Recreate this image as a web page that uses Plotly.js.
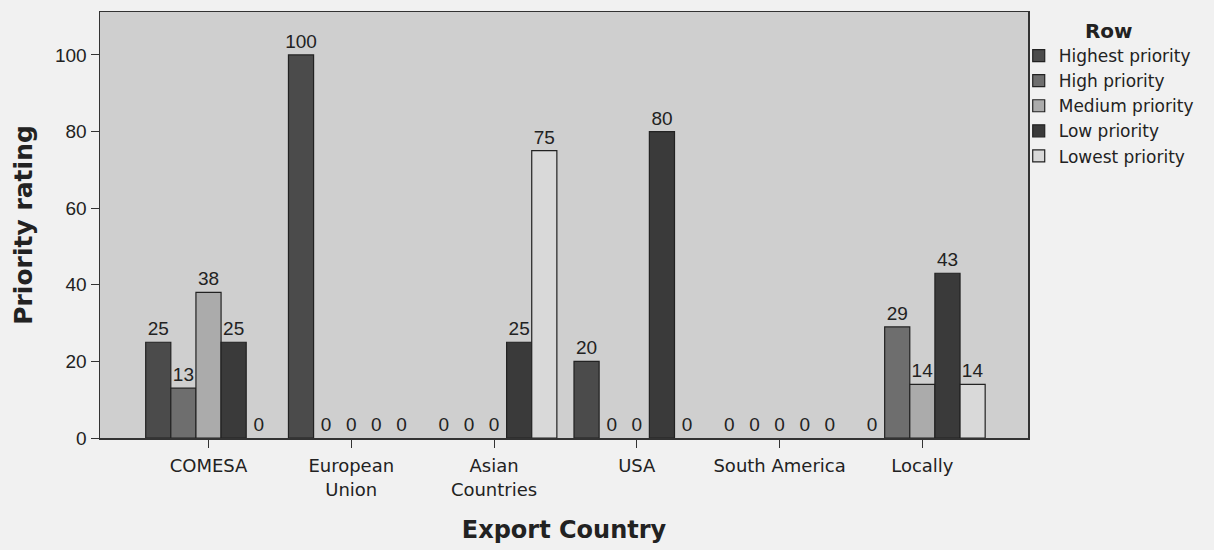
<!DOCTYPE html>
<html>
<head>
<meta charset="utf-8">
<script src="https://cdn.plot.ly/plotly-3.0.1.min.js"></script>
<style>html,body{margin:0;padding:0;background:#f1f1f1;}</style>
</head>
<body>
<div id="chart" style="width:1214px;height:550px;"></div>
<script>
const categories = ["COMESA", "European<br>Union", "Asian<br>Countries", "USA", "South America", "Locally"];
const seriesNames = ["Highest priority", "High priority", "Medium priority", "Low priority", "Lowest priority"];
const highest = [25, 100, 0, 20, 0, 0];
const high    = [13, 0, 0, 0, 0, 29];
const medium  = [38, 0, 0, 0, 0, 14];
const low     = [25, 0, 25, 80, 0, 43];
const lowest  = [0, 0, 75, 0, 0, 14];
const yTicks  = [0, 20, 40, 60, 80, 100];

const seriesValues = [highest, high, medium, low, lowest];
const colors = ["#4b4b4b", "#6e6e6e", "#ababab", "#3a3a3a", "#d9d9d9"];

// Data bars (zero-height bars keep their "0" label but draw no outline)
const traces = seriesValues.map((vals, i) => ({
  type: "bar",
  name: seriesNames[i],
  legendgroup: seriesNames[i],
  showlegend: false,
  x: categories,
  y: vals,
  text: vals.map(String),
  textposition: "outside",
  constraintext: "none",
  cliponaxis: false,
  textfont: {family: "Liberation Sans, Arial, sans-serif", size: 19, color: "#222"},
  marker: {color: colors[i], line: {color: "#222", width: vals.map(v => v === 0 ? 0 : 1.2)}}
}));

// Legend entries (drawn on a hidden overlay axis so they do not affect bar grouping)
const legendTraces = seriesNames.map((name, i) => ({
  type: "bar",
  name: name,
  legendgroup: name,
  x: [categories[0]],
  y: [null],
  xaxis: "x2", yaxis: "y2",
  marker: {color: colors[i], line: {color: "#222", width: 1.2}}
}));

const layout = {
  width: 1214, height: 550,
  paper_bgcolor: "#f1f1f1",
  plot_bgcolor: "#cfcfcf",
  margin: {l: 100, r: 186, t: 12, b: 112},
  barmode: "group",
  bargap: 0.12,
  bargroupgap: 0,
  font: {family: "Liberation Sans, Arial, sans-serif", color: "#222"},
  xaxis: {
    type: "category",
    range: [-0.76, 5.74],
    ticks: "outside", ticklen: 8, tickcolor: "#333",
    showline: true, linecolor: "#333", linewidth: 1.5, mirror: true,
    tickfont: {family: "DejaVu Sans, sans-serif", size: 18, color: "#222"},
    ticklabelstandoff: 3,
    title: {text: "Export Country", font: {family: "DejaVu Sans, sans-serif", size: 24, color: "#222", weight: "bold"}, standoff: 22}
  },
  yaxis: {
    range: [0, 111.2],
    tickvals: yTicks,
    ticks: "outside", ticklen: 8, tickcolor: "#333",
    showgrid: false, zeroline: false,
    showline: true, linecolor: "#333", linewidth: 1.5, mirror: true,
    tickfont: {family: "Liberation Sans, Arial, sans-serif", size: 19, color: "#222"},
    title: {text: "Priority rating", font: {family: "DejaVu Sans, sans-serif", size: 25, color: "#222", weight: "bold"}, standoff: 15}
  },
  xaxis2: {overlaying: "x", visible: false, type: "category", range: [-0.76, 5.74]},
  yaxis2: {overlaying: "y", visible: false, range: [0, 111.2]},
  legend: {
    x: 0.99, xanchor: "left", y: 1, yanchor: "top",
    bgcolor: "rgba(0,0,0,0)",
    font: {family: "DejaVu Sans, sans-serif", size: 17, color: "#222"},
    itemwidth: 30,
    tracegroupgap: 0,
    title: {text: "Row", side: "top center", font: {family: "DejaVu Sans, sans-serif", size: 20, weight: "bold", color: "#222"}}
  },
  showlegend: true
};

Plotly.newPlot("chart", traces.concat(legendTraces), layout, {displayModeBar: false, staticPlot: true});
</script>
</body>
</html>
